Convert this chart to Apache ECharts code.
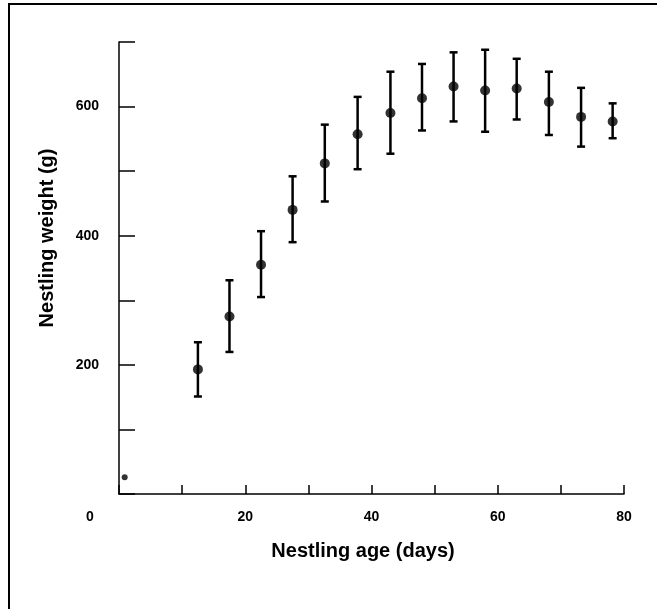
<!DOCTYPE html>
<html>
<head>
<meta charset="utf-8">
<script src="https://cdn.jsdelivr.net/npm/echarts@6/dist/echarts.min.js"></script>
<style>
  html, body { margin: 0; padding: 0; background: #fff; }
  #chart { width: 657px; height: 609px; }
</style>
</head>
<body>
<div id="chart"></div>
<script>
// nestling age (days), mean weight (g) and the error bar ends
var ages    = [12.5, 17.5, 22.5, 27.5, 32.6, 37.8, 43.0, 48.0, 53.0, 58.0, 63.0, 68.1, 73.2, 78.2];
var weights = [193, 275, 355, 440, 512, 557, 590, 613, 631, 625, 628, 607, 584, 577];
var lows    = [151, 220, 305, 390, 453, 503, 527, 563, 577, 561, 580, 556, 538, 551];
var highs   = [235, 331, 407, 492, 572, 615, 654, 666, 684, 688, 674, 654, 629, 605];
// hatchling point, no error bar
var hatchling = [[0.9, 26]];

var xLabels = [0, 20, 40, 60, 80];
var yLabels = [200, 400, 600];

var dom = document.getElementById('chart');
var myChart = echarts.init(dom);

var barData = ages.map(function (a, i) { return [a, lows[i], highs[i]]; });
var meanData = ages.map(function (a, i) { return [a, weights[i]]; });

var labelFont = { fontFamily: 'Liberation Sans', fontWeight: 'bold', fontSize: 14, color: '#000' };

var option = {
  backgroundColor: '#fff',
  animation: false,
  grid: { left: 119, right: 33, top: 42, bottom: 115 },
  graphic: [{
    type: 'rect',
    shape: { x: 9, y: 4, width: 700, height: 700 },
    style: { fill: 'none', stroke: '#000', lineWidth: 2 },
    silent: true
  }],
  xAxis: {
    type: 'value', min: 0, max: 80, interval: 10,
    name: 'Nestling age (days)',
    nameLocation: 'middle', nameGap: 47,
    nameTextStyle: { fontFamily: 'Liberation Sans', fontWeight: 'bold', fontSize: 20, color: '#000', padding: [0, 17, 0, 0] },
    axisLine: { show: true, lineStyle: { color: '#000', width: 1.5 } },
    axisTick: { inside: true, length: 9, lineStyle: { color: '#000', width: 1.5 } },
    splitLine: { show: false },
    axisLabel: Object.assign({
      margin: 16,
      formatter: function (v) {
        if (v === 0) return '{z|0}';
        return xLabels.indexOf(v) >= 0 ? String(v) : '';
      },
      rich: { z: Object.assign({ padding: [0, 58, 0, 0] }, labelFont) }
    }, labelFont)
  },
  yAxis: {
    type: 'value', min: 0, max: 700, interval: 100,
    name: 'Nestling weight (g)',
    nameLocation: 'middle', nameGap: 62,
    nameTextStyle: { fontFamily: 'Liberation Sans', fontWeight: 'bold', fontSize: 20, color: '#000', padding: [0, 0, 0, 60] },
    axisLine: { show: true, lineStyle: { color: '#000', width: 1.5 } },
    axisTick: { inside: true, length: 16, lineStyle: { color: '#000', width: 1.5 } },
    splitLine: { show: false },
    axisLabel: Object.assign({
      margin: 20,
      formatter: function (v) { return yLabels.indexOf(v) >= 0 ? String(v) : ''; }
    }, labelFont)
  },
  series: [
    {
      type: 'custom',
      data: barData,
      renderItem: function (params, api) {
        var top = api.coord([api.value(0), api.value(2)]);
        var bot = api.coord([api.value(0), api.value(1)]);
        var cap = 4;
        var st = { stroke: '#000', lineWidth: 2.5 };
        return {
          type: 'group',
          children: [
            { type: 'line', shape: { x1: top[0], y1: top[1], x2: bot[0], y2: bot[1] }, style: st },
            { type: 'line', shape: { x1: top[0] - cap, y1: top[1], x2: top[0] + cap, y2: top[1] }, style: st },
            { type: 'line', shape: { x1: bot[0] - cap, y1: bot[1], x2: bot[0] + cap, y2: bot[1] }, style: st }
          ]
        };
      },
      z: 2
    },
    {
      type: 'scatter',
      data: meanData,
      symbol: 'circle', symbolSize: 10,
      itemStyle: { color: '#000' },
      z: 3
    },
    {
      type: 'scatter',
      data: hatchling,
      symbol: 'circle', symbolSize: 6,
      itemStyle: { color: '#000' },
      z: 3
    }
  ]
};

if (option && typeof option === 'object') {
  myChart.setOption(option);
}

window.onresize = function () {
  myChart.resize();
};
</script>
</body>
</html>
